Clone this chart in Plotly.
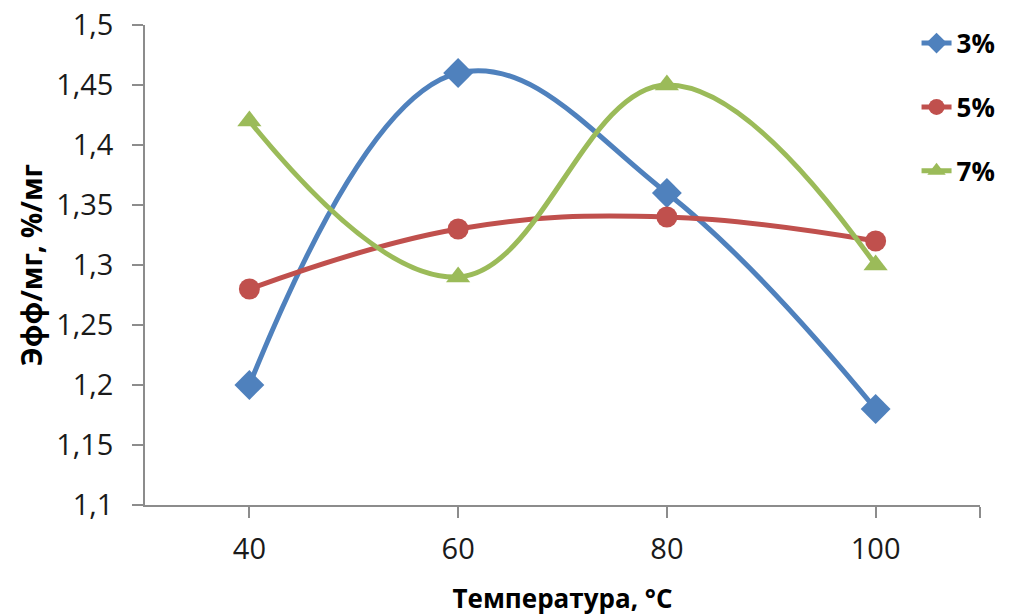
import plotly.graph_objects as go

temperature = [40, 60, 80, 100]
eff_3 = [1.20, 1.46, 1.36, 1.18]
eff_5 = [1.28, 1.33, 1.34, 1.32]
eff_7 = [1.42, 1.29, 1.45, 1.30]

series_names = ["3%", "5%", "7%"]
series_values = [eff_3, eff_5, eff_7]
series_colors = ["#4F81BD", "#C0504D", "#9BBB59"]
series_symbols = ["diamond", "circle", "triangle-up"]
series_sizes = [23, 21, 21]

y_ticks = [1.1, 1.15, 1.2, 1.25, 1.3, 1.35, 1.4, 1.45, 1.5]
y_tick_text = ["1,1", "1,15", "1,2", "1,25", "1,3", "1,35", "1,4", "1,45", "1,5"]
x_ticks = [40, 60, 80, 100, 110]
x_tick_text = ["40", "60", "80", "100", ""]

FONT = "Open Sans, Liberation Sans, sans-serif"

fig = go.Figure()
for i, (name, vals, col, sym, sz) in enumerate(
        zip(series_names, series_values, series_colors, series_symbols, series_sizes)):
    fig.add_trace(go.Scatter(
        x=temperature, y=vals, name=name, mode="lines+markers",
        legendgroup=f"g{i}",
        line=dict(color=col, width=5, shape="spline", smoothing=1.15),
        marker=dict(symbol=sym, size=sz, color=col),
    ))

axis_line = dict(showline=True, linecolor="#8C8C8C", linewidth=1.5,
                 ticks="outside", tickcolor="#8C8C8C", ticklen=11, tickwidth=1.5,
                 showgrid=False, zeroline=False, automargin=False,
                 tickfont=dict(family=FONT, size=29, color="#1a1a1a"))

fig.update_layout(
    width=1018, height=616,
    margin=dict(l=145, r=38, t=25, b=111),
    paper_bgcolor="white", plot_bgcolor="white",
    xaxis=dict(range=[30, 110], tickvals=x_ticks, ticktext=x_tick_text,
               ticklabelstandoff=6,
               title=dict(text="<b>Температура, °С</b>", standoff=30,
                          font=dict(family=FONT, size=26, color="#000")),
               **axis_line),
    yaxis=dict(range=[1.1, 1.5], tickvals=y_ticks, ticktext=y_tick_text,
               ticklabelstandoff=13,
               title=dict(text="<b>Эфф/мг, %/мг</b>", standoff=5,
                          font=dict(family=FONT, size=28, color="#000")),
               **axis_line),
    legend=dict(x=0.924, y=1.011, xanchor="left", yanchor="top",
                bgcolor="rgba(0,0,0,0)", tracegroupgap=27,
                font=dict(family=FONT, size=26, color="#000", weight="bold")),
    showlegend=True,
)

fig.write_html("out.html")
